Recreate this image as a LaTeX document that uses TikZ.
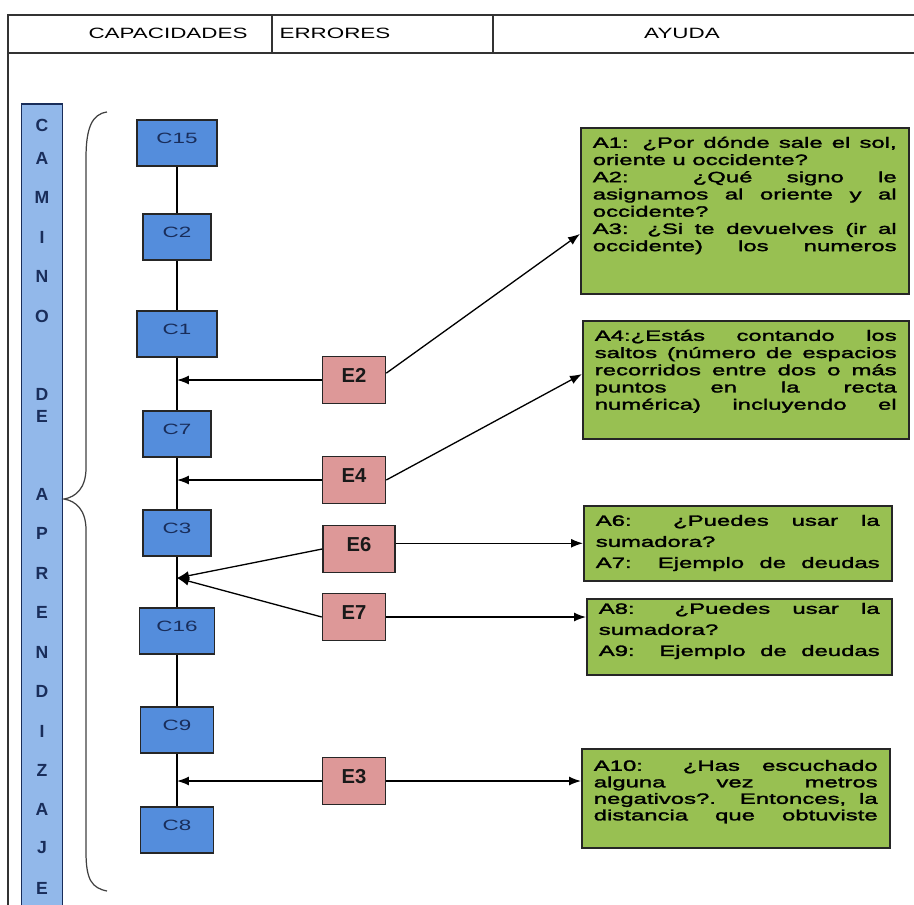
\documentclass[tikz,border=0pt]{standalone}
\usepackage{fontspec}
\setmainfont{Liberation Sans}
\newfontfamily\widefont[FakeStretch=1.5]{Liberation Sans}
\newfontfamily\boxfont[FakeStretch=1.6,FakeBold=2]{Liberation Sans}
\usetikzlibrary{arrows.meta}
\definecolor{capblue}{RGB}{84,141,220}
\definecolor{errpink}{RGB}{221,152,152}
\definecolor{ayugreen}{RGB}{152,192,82}
\definecolor{barblue}{RGB}{146,184,234}
\definecolor{navy}{RGB}{25,45,90}
\begin{document}
\begin{tikzpicture}[x=0.02cm,y=-0.02cm,
  frame/.style={line width=0.85pt,black!80},
  capbox/.style={draw=black!85,line width=0.9pt,fill=capblue,inner ysep=0.26cm,text height=0.2cm,text depth=0.2cm,
    font=\widefont\fontsize{8.5}{9}\selectfont,text=navy},
  errbox/.style={draw=black!85,line width=0.9pt,fill=errpink,minimum width=1.26cm,inner ysep=0.23cm,text height=0.28cm,text depth=0.2cm,
    font=\bfseries\fontsize{11.5}{12}\selectfont,text=black!90},
  ayubox/.style={anchor=north west,draw=black!85,line width=0.9pt,fill=ayugreen,inner xsep=0.24cm,inner ysep=0.2cm,
    text height=0.2cm,align=justify,font=\boxfont\fontsize{8.5}{9.8}\selectfont},
  barletter/.style={font=\bfseries\fontsize{10}{11}\selectfont,text=navy,inner sep=0pt},
  link/.style={line width=0.75pt,black},
  arr/.style={link,-{Latex[length=0.24cm,width=0.18cm]}}]
\useasboundingbox (0,0) rectangle (914,904);
\clip (0,0) rectangle (914,904);
\draw[frame] (8,920) -- (8,15) -- (920,15);
\draw[frame] (8,53) -- (920,53);
\draw[frame] (272,15) -- (272,53) (493,15) -- (493,53);
\node[font=\widefont\fontsize{8.5}{9}\selectfont] (hcap) at (168,33) {CAPACIDADES};
\node[font=\widefont\fontsize{8.5}{9}\selectfont] (herr) at (335,33) {ERRORES};
\node[font=\widefont\fontsize{8.5}{9}\selectfont] (hayu) at (682,33) {AYUDA};
\node[draw=navy,line width=1pt,fill=barblue,anchor=north,minimum width=0.82cm,minimum height=16.4cm] (bar) at (42,103) {};
\foreach \ly/\lt [count=\i] in {125/C,158/A,197/M,237/I,276/N,316/O,394/D,416/E,494/A,533/P,573/R,612/E,652/N,691/D,731/I,770/Z,809/A,848/J,888/E}
  \node[barletter] (l\i) at (42,\ly) {\lt};
\draw[black!75,line width=0.7pt] (107,112) .. controls (92,114) and (86,128) .. (86,158) -- (86,468)
  .. controls (86,488) and (76,497) .. (64,499) .. controls (76,501) and (86,510) .. (86,530) -- (86,852)
  .. controls (86,880) and (92,888) .. (107,891);
\node[capbox,minimum width=1.6cm] (C15) at (177,143) {C15};
\node[capbox,minimum width=1.36cm] (C2) at (177,237) {C2};
\node[capbox,minimum width=1.6cm] (C1) at (177,334) {C1};
\node[capbox,minimum width=1.36cm] (C7) at (177,434) {C7};
\node[capbox,minimum width=1.36cm] (C3) at (177,533) {C3};
\node[capbox,minimum width=1.5cm] (C16) at (177,631) {C16};
\node[capbox,minimum width=1.46cm] (C9) at (177,730) {C9};
\node[capbox,minimum width=1.46cm] (C8) at (177,830) {C8};
\draw[link] (C15) -- (C2) -- (C1) -- (C7) -- (C3) -- (C16) -- (C9) -- (C8);
\coordinate (p6) at (177,578);
\node[errbox] (E2) at (354,380) {E2};
\node[errbox] (E4) at (354,480) {E4};
\node[errbox,minimum width=1.44cm] (E6) at (359,549) {E6};
\node[errbox] (E7) at (354,617) {E7};
\node[errbox] (E3) at (354,781) {E3};
\node[ayubox,text width=6.08cm,text depth=2.72cm] (A1) at (580,127)
  {A1: ¿Por dónde sale el sol,\linebreak oriente u occidente?\par
   A2: ¿Qué signo le\linebreak asignamos al oriente y al\linebreak occidente?\par
   A3: ¿Si te devuelves (ir al\linebreak occidente) los numeros\parfillskip=0pt\par};
\node[ayubox,text width=6.04cm,text depth=1.76cm] (A4) at (582,320)
  {A4:¿Estás contando los\linebreak saltos (número de espacios\linebreak recorridos entre dos o más\linebreak
   puntos en la recta\linebreak numérica) incluyendo el\parfillskip=0pt\par};
\node[ayubox,text width=5.68cm,text depth=0.9cm,font=\boxfont\fontsize{8.5}{12}\selectfont] (A6) at (583,505)
  {A6: ¿Puedes usar la\linebreak sumadora?\par A7: Ejemplo de deudas\parfillskip=0pt\par};
\node[ayubox,text width=5.62cm,text height=0.1cm,text depth=1.02cm,font=\boxfont\fontsize{8.5}{12}\selectfont] (A8) at (586,598)
  {A8: ¿Puedes usar la\linebreak sumadora?\par A9: Ejemplo de deudas\parfillskip=0pt\par};
\node[ayubox,text width=5.68cm,text height=0.24cm,text depth=1.34cm,font=\boxfont\fontsize{8.5}{9.4}\selectfont] (A10) at (581,748)
  {A10: ¿Has escuchado\linebreak alguna vez metros\linebreak negativos?. Entonces, la\linebreak distancia que obtuviste\parfillskip=0pt\par};
\draw[arr] (E2.west) -- (E2.west -| C1);
\draw[arr] (E4.west) -- (E4.west -| C7);
\draw[arr] (E6.west) -- (p6);
\draw[arr] (E7.west) -- (p6);
\draw[arr] (E3.west) -- (E3.west -| C9);
\draw[arr] (E2.12) -- (A1.188);
\draw[arr] (E4.east) -- (A4.178);
\draw[arr] (E6.east |- A6.west) -- (A6.west);
\draw[arr] (E7.east) -- (E7.east -| A8.west);
\draw[arr] (E3.east) -- (E3.east -| A10.west);
\end{tikzpicture}
\end{document}
